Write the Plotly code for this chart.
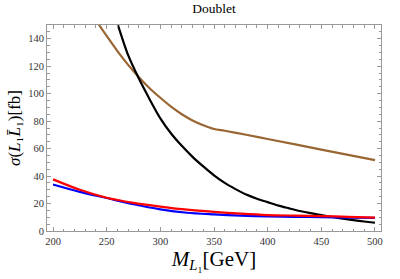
import plotly.graph_objects as go

# Black curve
m_black = [255, 260, 270, 280, 290, 300, 310, 320, 330, 340, 350, 360, 370, 380, 390,
           400, 410, 420, 430, 440, 450, 460, 470, 480, 490, 500]
s_black = [162, 151, 128, 111, 96, 82, 71, 62, 54, 47, 40.5, 35, 30.5, 26.5, 23.5,
           21, 18.5, 16.5, 14.6, 13.0, 11.6, 10.2, 9.0, 7.9, 6.9, 6.0]

# Brown curve
m_brown = [235, 243, 250, 260, 270, 280, 290, 300, 310, 320, 330, 340, 350, 360, 380, 400, 450, 500]
s_brown = [160, 150, 142, 131, 121, 112, 104, 97, 90.5, 85, 80.5, 77, 74.3, 73.0, 70.1, 67.0, 59.3, 51.6]

# Blue curve
m_blue = [200, 225, 250, 275, 300, 325, 350, 375, 400, 425, 450, 475, 500]
s_blue = [33.9, 28.5, 24.0, 19.5, 15.8, 13.3, 12.1, 11.2, 10.6, 10.3, 10.1, 9.8, 9.5]

# Red curve
m_red = [200, 225, 250, 275, 300, 325, 350, 375, 400, 425, 450, 475, 500]
s_red = [37.6, 30.0, 24.2, 20.5, 17.8, 15.5, 13.9, 12.6, 11.6, 11.2, 10.9, 10.3, 9.8]

x_ticks = [200, 250, 300, 350, 400, 450, 500]
y_ticks = [0, 20, 40, 60, 80, 100, 120, 140]

SERIF = "Times New Roman, Liberation Serif, DejaVu Serif, serif"

fig = go.Figure()
fig.add_trace(go.Scatter(x=m_brown, y=s_brown, mode="lines", line=dict(color="#996633", width=2.2, shape="spline", smoothing=0.8)))
fig.add_trace(go.Scatter(x=m_black, y=s_black, mode="lines", line=dict(color="black", width=2.2, shape="spline", smoothing=0.8)))
fig.add_trace(go.Scatter(x=m_blue, y=s_blue, mode="lines", line=dict(color="#0000FF", width=2.2, shape="spline", smoothing=0.8)))
fig.add_trace(go.Scatter(x=m_red, y=s_red, mode="lines", line=dict(color="#FF0000", width=2.2, shape="spline", smoothing=0.8)))

axis_common = dict(
    showline=True, linecolor="#999999", linewidth=1, mirror="allticks",
    ticks="inside", ticklen=4, tickcolor="#999999", tickwidth=1,
    showgrid=False, zeroline=False,
    tickfont=dict(family=SERIF, size=10.5, color="#333333"),
)

fig.update_layout(
    width=400, height=279,
    margin=dict(l=47, r=19, t=24.5, b=48),
    paper_bgcolor="white", plot_bgcolor="white",
    showlegend=False,
    title=dict(text="Doublet", x=0.535, xanchor="center", yref="container", y=0.971, yanchor="middle",
               font=dict(family=SERIF, size=13.5, color="black")),
    xaxis=dict(range=[194.4, 505.6], tickvals=x_ticks,
               minor=dict(dtick=10, tick0=200, ticklen=2.5, ticks="inside", tickcolor="#999999"),
               title=dict(text="<i>M</i><sub><i>L</i>₁</sub>[GeV]", standoff=5,
                          font=dict(family=SERIF, size=21, color="black")),
               **axis_common),
    yaxis=dict(range=[0, 150], tickvals=y_ticks,
               minor=dict(dtick=5, tick0=0, ticklen=2.5, ticks="inside", tickcolor="#999999"),
               title=dict(text="<i>σ</i>(<i>L</i>₁<i>L̄</i>₁)[fb]", standoff=3,
                          font=dict(family=SERIF, size=17, color="black")),
               **axis_common),
)

fig.write_html("out.html", config={"displayModeBar": False},
               post_script="document.body.style.margin='0';")
